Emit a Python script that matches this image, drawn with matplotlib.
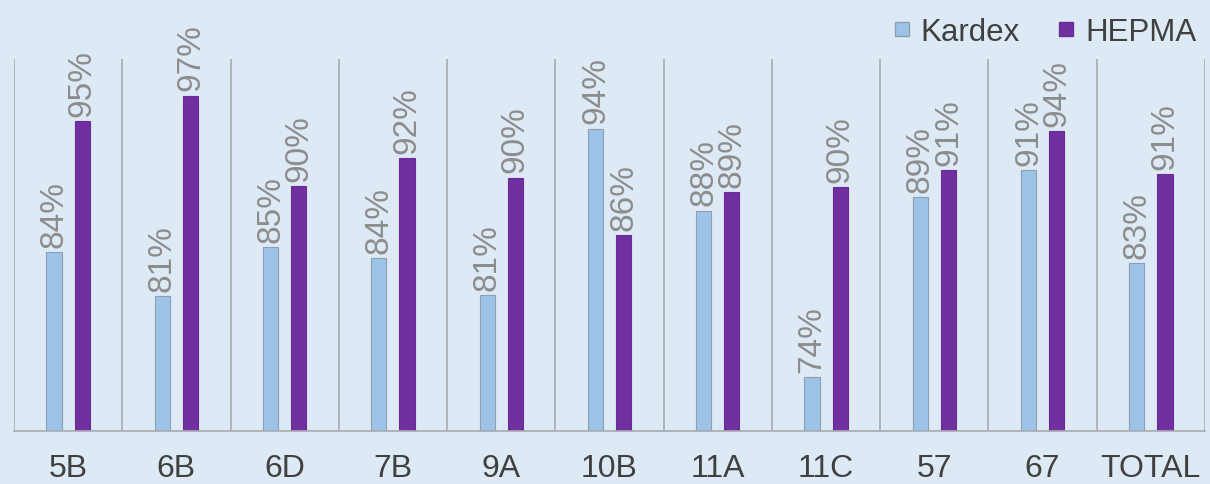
import numpy as np
import matplotlib
matplotlib.use("Agg")
import matplotlib.pyplot as plt
from matplotlib.lines import Line2D

plt.rcParams["font.family"] = ["Liberation Sans", "DejaVu Sans"]

# ── Data ─────────────────────────────────────────────────────────────────────
categories = ["5B", "6B", "6D", "7B", "9A", "10B", "11A", "11C", "57", "67", "TOTAL"]
kardex = [84.2, 80.6, 84.6, 83.7, 80.7, 94.3, 87.6, 74.0, 88.7, 90.9, 83.3]
hepma = [94.9, 97.0, 89.6, 91.9, 90.3, 85.6, 89.1, 89.5, 90.9, 94.1, 90.6]
series_names = ["Kardex", "HEPMA"]

BG = "#dde9f5"
KARDEX_C = "#9dc3e6"
HEPMA_C = "#7030a0"
GRID_C = "#a6abb0"

fig = plt.figure(figsize=(12.1, 4.85), dpi=100, facecolor=BG)
ax = fig.add_axes([14 / 1210, 53 / 485, 1191 / 1210, 372 / 485])
ax.set_facecolor(BG)

x = np.arange(len(categories))
w = 0.14
off = 0.13
ax.bar(x - off, kardex, width=w, color=KARDEX_C, edgecolor="#8a9fb4", linewidth=0.8)
ax.bar(x + off, hepma, width=w, color=HEPMA_C, edgecolor="#6a2d98", linewidth=0.8)

for xi, v in zip(x - off, kardex):
    ax.text(xi, v + 0.45, f"{v:.0f}%", rotation=90, ha="center", va="bottom",
            fontsize=24, color="#8c8c8c")
for xi, v in zip(x + off, hepma):
    ax.text(xi, v + 0.45, f"{v:.0f}%", rotation=90, ha="center", va="bottom",
            fontsize=24, color="#8c8c8c")

ax.set_xlim(-0.5, len(categories) - 0.5)
ax.set_ylim(69.6, 100)

# category separators
for b in np.arange(-0.5, len(categories), 1.0):
    ax.axvline(b, color=GRID_C, linewidth=1.2, zorder=0)

for s in ["top", "left", "right"]:
    ax.spines[s].set_visible(False)
ax.spines["bottom"].set_color(GRID_C)
ax.spines["bottom"].set_linewidth(1.2)

ax.set_yticks([])
ax.set_xticks(x)
ax.set_xticklabels(categories, fontsize=23, color="#404040")
ax.tick_params(axis="x", length=0, pad=16)

handles = [Line2D([], [], marker="s", linestyle="none", markersize=10,
                  markerfacecolor=KARDEX_C, markeredgecolor="#8a9fb4"),
           Line2D([], [], marker="s", linestyle="none", markersize=10,
                  markerfacecolor=HEPMA_C, markeredgecolor="#6a2d98")]
fig.legend(handles, series_names, loc="upper right", bbox_to_anchor=(1.012, 1.02),
           ncol=2, frameon=False, fontsize=22.5, labelcolor="#404040",
           handlelength=0.6, handletextpad=0.3, columnspacing=1.2)

fig.savefig("out.png", dpi=100, facecolor=BG)
